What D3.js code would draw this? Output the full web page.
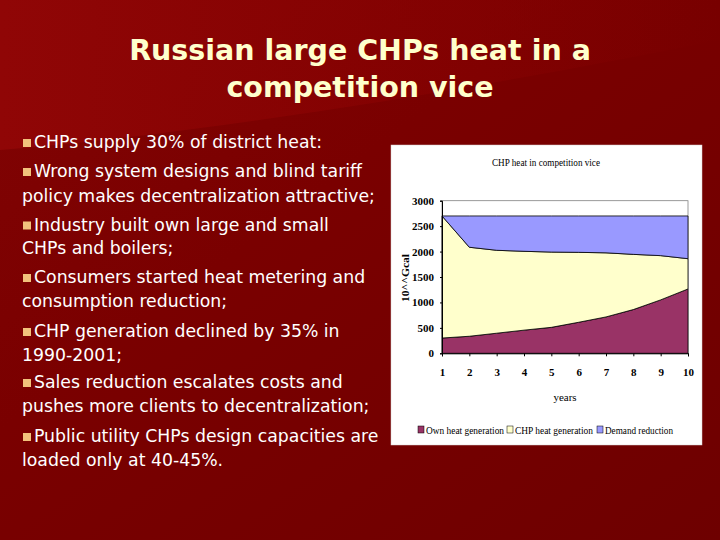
<!DOCTYPE html>
<html>
<head>
<meta charset="utf-8">
<script src="https://cdn.jsdelivr.net/npm/d3@7"></script>
<style>
 body { margin:0; padding:0; background:#7a0000; }
 svg { display:block; }
</style>
</head>
<body>
<div id="slide"></div>
<script>
// chart data
var years = [1, 2, 3, 4, 5, 6, 7, 8, 9, 10];
var ownHeat = [300, 335, 395, 455, 510, 610, 715, 860, 1050, 1265];
var chpHeat = [2400, 1750, 1630, 1550, 1480, 1375, 1260, 1085, 870, 595];
var demandReduction = [0, 615, 675, 695, 710, 715, 725, 755, 780, 840];
var yTicks = [0, 500, 1000, 1500, 2000, 2500, 3000];
var seriesNames = ["Own heat generation", "CHP heat generation", "Demand reduction"];
var seriesColors = ["#993366", "#ffffcc", "#9999ff"];

var titleLines = ["Russian large CHPs heat in a", "competition vice"];
// [text, starts a bullet?]
var bulletLines = [
  ["CHPs supply 30% of district heat:", true],
  ["Wrong system designs and blind tariff", true],
  ["policy makes decentralization attractive;", false],
  ["Industry built own large and small", true],
  ["CHPs and boilers;", false],
  ["Consumers started heat metering and", true],
  ["consumption reduction;", false],
  ["CHP generation declined by 35% in", true],
  ["1990-2001;", false],
  ["Sales reduction escalates costs and", true],
  ["pushes more clients to decentralization;", false],
  ["Public utility CHPs design capacities are", true],
  ["loaded only at 40-45%.", false]
];

var W = 720, H = 540;
var svg = d3.select("#slide").append("svg").attr("width", W).attr("height", H);

// background
var defs = svg.append("defs");
var bg = defs.append("linearGradient").attr("id", "bg")
  .attr("x1", "0").attr("y1", "0").attr("x2", "1").attr("y2", "1");
bg.append("stop").attr("offset", "0%").attr("stop-color", "#820404");
bg.append("stop").attr("offset", "40%").attr("stop-color", "#7a0000");
bg.append("stop").attr("offset", "100%").attr("stop-color", "#6e0000");
svg.append("rect").attr("width", W).attr("height", H).attr("fill", "url(#bg)");

// lighter upper band (slide design)
var sw = defs.append("linearGradient").attr("id", "sw")
  .attr("x1", "0").attr("y1", "0").attr("x2", "1").attr("y2", "0");
sw.append("stop").attr("offset", "0%").attr("stop-color", "#900606").attr("stop-opacity", 1);
sw.append("stop").attr("offset", "60%").attr("stop-color", "#880202").attr("stop-opacity", 0.6);
sw.append("stop").attr("offset", "100%").attr("stop-color", "#880202").attr("stop-opacity", 0);
svg.append("path")
  .attr("d", "M0,0 L720,0 L720,40 C520,80 240,130 0,150 Z")
  .attr("fill", "url(#sw)");

// title
svg.selectAll("text.title")
  .data(titleLines)
  .enter().append("text")
  .attr("class", "title")
  .attr("x", 360)
  .attr("y", function(d, i){ return 60 + i * 37; })
  .attr("text-anchor", "middle")
  .attr("font-family", "DejaVu Sans, Verdana, sans-serif")
  .attr("font-weight", "bold")
  .attr("font-size", 28.5)
  .attr("fill", "#ffffcc")
  .text(function(d){ return d; });

// bullet text
var lineY = [142, 171, 196, 224.5, 248, 277, 301, 331, 355, 382, 406, 436, 460];
var txt = svg.append("g");
bulletLines.forEach(function(l, i){
  var y = lineY[i];
  if (l[1]) {
    txt.append("rect").attr("x", 23).attr("y", y - 3).attr("width", 8).attr("height", 8)
      .attr("fill", "#f2c27c");
  }
  txt.append("text")
    .attr("x", l[1] ? 34 : 22)
    .attr("y", y + 6)
    .attr("font-family", "DejaVu Sans, Verdana, sans-serif")
    .attr("font-size", 17.3)
    .attr("fill", "#ffffff")
    .text(l[0]);
});

// chart box
var box = {x: 391, y: 145, w: 311, h: 300};
svg.append("rect").attr("x", box.x).attr("y", box.y).attr("width", box.w).attr("height", box.h)
  .attr("fill", "#ffffff").attr("stroke", "#d8d0d0").attr("stroke-width", 0.5);

var serif = "Liberation Serif, Times New Roman, serif";
svg.append("text").attr("x", 492).attr("y", 166)
  .attr("font-family", serif).attr("font-size", 11).attr("fill", "#000")
  .attr("textLength", 108).attr("lengthAdjust", "spacingAndGlyphs")
  .text("CHP heat in competition vice");

var plot = {left: 442, right: 688, top: 200.7, bottom: 353.3};
var x = d3.scaleLinear().domain([1, 10]).range([plot.left, plot.right]);
var y = d3.scaleLinear().domain([0, 3000]).range([plot.bottom, plot.top]);

var rows = years.map(function(yr, i){
  return {year: yr, own: ownHeat[i], chp: chpHeat[i], demand: demandReduction[i]};
});
var stack = d3.stack().keys(["own", "chp", "demand"]);
var layers = stack(rows);

var area = d3.area()
  .x(function(d){ return x(d.data.year); })
  .y0(function(d){ return y(d[0]); })
  .y1(function(d){ return y(d[1]); });

// plot frame
svg.append("rect").attr("x", plot.left).attr("y", plot.top)
  .attr("width", plot.right - plot.left).attr("height", plot.bottom - plot.top)
  .attr("fill", "none").attr("stroke", "#808080").attr("stroke-width", 0.8);

svg.append("g").selectAll("path")
  .data(layers)
  .enter().append("path")
  .attr("d", area)
  .attr("fill", function(d, i){ return seriesColors[i]; })
  .attr("stroke", "#000")
  .attr("stroke-width", 0.8);

// axes
var yAxis = svg.append("g").attr("transform", "translate(" + plot.left + ",0)")
  .call(d3.axisLeft(y).tickValues(yTicks).tickSize(2).tickPadding(6).tickFormat(d3.format("d")));
var xAxis = svg.append("g").attr("transform", "translate(0," + plot.bottom + ")")
  .call(d3.axisBottom(x).tickValues(years).tickSize(3).tickPadding(12).tickFormat(d3.format("d")));
[yAxis, xAxis].forEach(function(a){
  a.select(".domain").attr("stroke", "#000").attr("stroke-width", 1);
  a.selectAll(".tick line").attr("stroke", "#000");
  a.selectAll("text").attr("font-family", serif).attr("font-size", 11)
    .attr("font-weight", "bold").attr("fill", "#000");
});

svg.append("text")
  .attr("transform", "translate(409,278) rotate(-90)")
  .attr("text-anchor", "middle")
  .attr("font-family", serif).attr("font-size", 10).attr("font-weight", "bold")
  .attr("textLength", 48).attr("lengthAdjust", "spacingAndGlyphs")
  .text("10^^Gcal");

svg.append("text").attr("x", 565).attr("y", 401).attr("text-anchor", "middle")
  .attr("font-family", serif).attr("font-size", 11).text("years");

// legend
var legendX = [418, 507, 597];
var legendW = [78, 78, 68];
var leg = svg.append("g").selectAll("g")
  .data(seriesNames)
  .enter().append("g")
  .attr("transform", function(d, i){ return "translate(" + legendX[i] + ",430)"; });
leg.append("rect").attr("x", 0).attr("y", -4).attr("width", 6).attr("height", 7)
  .attr("fill", function(d, i){ return seriesColors[i]; })
  .attr("stroke", "#000").attr("stroke-width", 0.5);
leg.append("text").attr("x", 8).attr("y", 4)
  .attr("font-family", serif).attr("font-size", 11).attr("fill", "#000")
  .attr("textLength", function(d, i){ return legendW[i]; })
  .attr("lengthAdjust", "spacingAndGlyphs")
  .text(function(d){ return d; });
</script>
</body>
</html>
